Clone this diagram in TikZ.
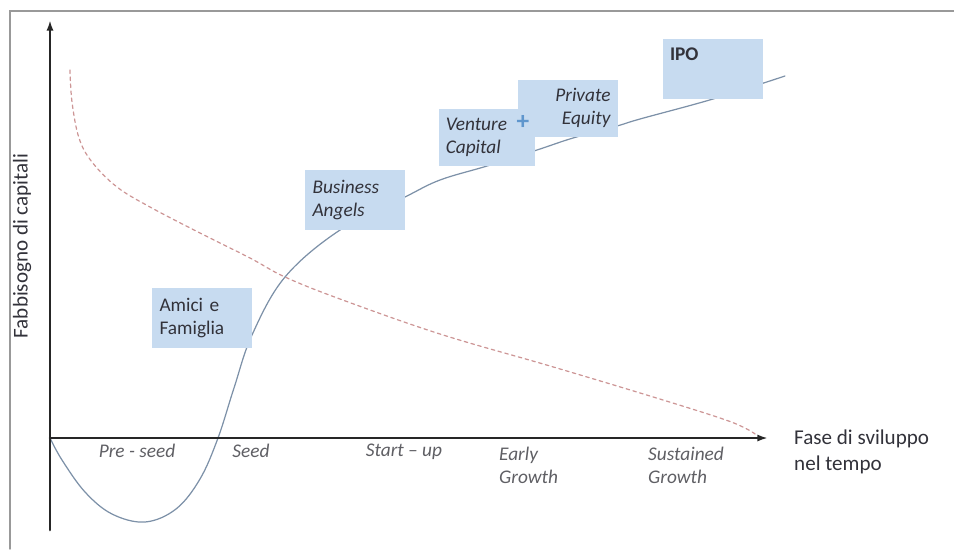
\documentclass[tikz,border=0pt]{standalone}
\usepackage{fontspec}
\setmainfont{Carlito}
\usepackage{tikz}
\usetikzlibrary{arrows.meta}
\tikzset{>=latex}
\definecolor{boxcol}{RGB}{199,219,240}
\definecolor{curvecol}{RGB}{125,145,168}
\definecolor{dashcol}{RGB}{205,150,150}
\definecolor{txtcol}{RGB}{50,50,58}
\definecolor{phasecol}{RGB}{95,95,100}
\definecolor{pluscol}{RGB}{95,150,205}
\tikzstyle{axis}=[line width=1.5pt,black!85,-{Latex[length=6pt,width=4pt]}]
\tikzstyle{box}=[rectangle,fill=boxcol,inner sep=4pt,text=txtcol,font=\fontsize{11}{13}\selectfont,align=left]
\tikzstyle{phase}=[text=phasecol,font=\fontsize{11}{13}\selectfont\itshape,align=left]

\begin{document}
\begin{tikzpicture}[line cap=round,x=0.02cm,y=-0.02cm]
  \useasboundingbox (0,0) rectangle (954,549);
  \draw[gray!80,line width=0.8pt] (10,549) -- (10,11) -- (954,11);

  \coordinate (O) at (50,438);
  \coordinate (Ytop) at (50,20);
  \coordinate (Xend) at (768,438);
  \coordinate (Ybot) at (50,530);

  \draw[curvecol,line width=0.7pt] plot[smooth,tension=0.6] coordinates {(50,438) (62,460) (85,492) (112,514) (145,522) (176,509) (200,479) (218,438) (234,388) (252,335) (285,277) (340,230) (405,197) (440,180) (487,166) (537,150) (573,138) (617,126) (640,119) (713,99) (785,76)};
  \draw[dashcol,line width=0.7pt,dash pattern=on 2pt off 2pt] plot[smooth,tension=0.6] coordinates {(70,70) (72,102) (79,138) (92,162) (117,187) (150,207) (200,233) (250,258) (285,277) (340,299) (440,334) (550,366) (650,396) (720,418) (745,428) (758,436)};

  \draw[axis] (Ybot) -- (Ytop);
  \draw[axis] (O) -- (Xend);

  \node[box,minimum width=2cm,minimum height=1.2cm,text width=1.7cm] (AF) at (202,318) {Amici e\\Famiglia};
  \node[box,minimum width=2cm,minimum height=1.2cm,text width=1.7cm,font=\fontsize{11}{13}\selectfont\itshape] (BA) at (355,200) {Business\\Angels};
  \node[box,minimum width=1.9cm,minimum height=1.14cm,text width=1.65cm,font=\fontsize{11}{13}\selectfont\itshape] (VC) at (487,137) {Venture\\Capital};
  \node[box,minimum width=2cm,minimum height=1.14cm,text width=1.7cm,align=right,font=\fontsize{11}{13}\selectfont\itshape] (PE) at (568,108) {Private\\Equity};
  \node[box,minimum width=2cm,minimum height=1.2cm,label={[text=txtcol,font=\fontsize{11}{13}\selectfont\bfseries,anchor=north west,inner sep=0pt,xshift=4pt,yshift=-5pt]north west:IPO}] (IPO) at (713,69) {};
  \node[text=pluscol,font=\Large\bfseries,inner sep=0pt] (plus) at (523,122) {+};

  \node[rotate=90,text=txtcol,font=\fontsize{12}{14}\selectfont] (ylab) at (22,246) {Fabbisogno di capitali};
  \node[anchor=west,text=txtcol,align=left,font=\fontsize{12}{15}\selectfont] (xlab) at (788,452) {Fase di sviluppo\\nel tempo};

  \node[phase] (preseed) at (137,451) {Pre - seed};
  \node[phase] (seed) at (251,451) {Seed};
  \node[phase] (startup) at (404,452) {Start -- up};
  \node[phase,anchor=west] (early) at (493,465) {Early\\Growth};
  \node[phase,anchor=west] (sust) at (642,465) {Sustained\\Growth};
\end{tikzpicture}
\end{document}
